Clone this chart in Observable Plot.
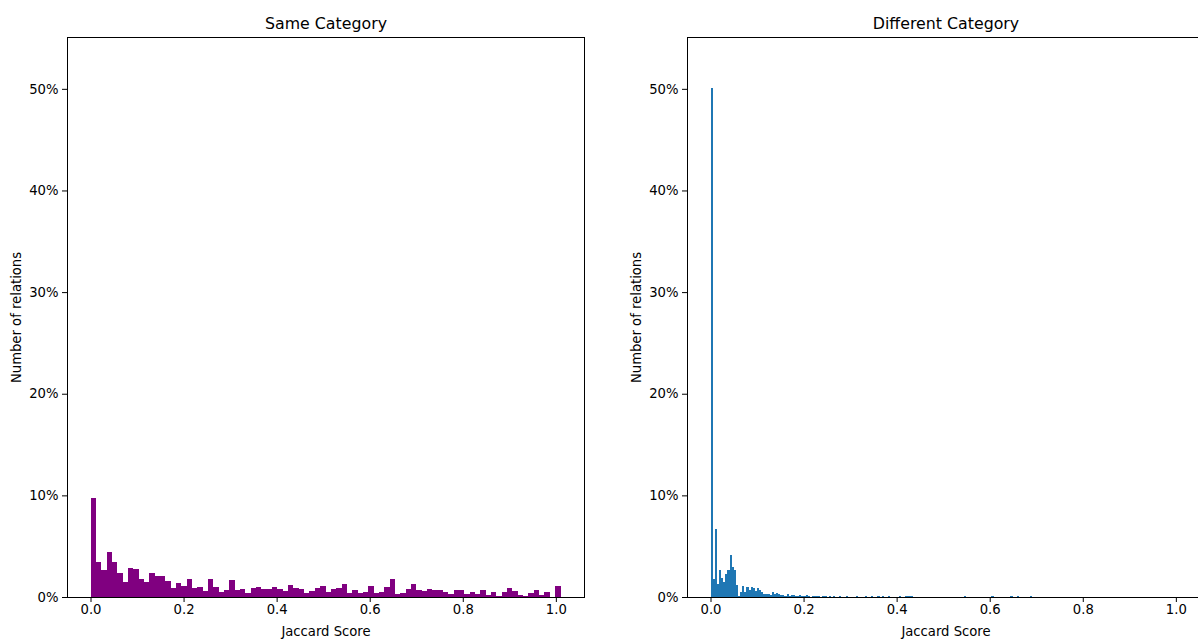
<!DOCTYPE html>
<html>
<head>
<meta charset="utf-8">
<script src="https://cdn.jsdelivr.net/npm/d3@7"></script>
<script src="https://cdn.jsdelivr.net/npm/@observablehq/plot@0.6"></script>
<style>
  html, body { margin: 0; padding: 0; background: #fff; }
  #wrap { position: relative; width: 1198px; height: 639px; overflow: hidden; }
  #left, #right { position: absolute; top: 0; }
  #left { left: 0; width: 599px; }
  #right { left: 599px; width: 620px; }
  svg { max-width: none !important; }
</style>
</head>
<body>
<div id="wrap"><div id="left"></div><div id="right"></div></div>
<script>
// ---- data (percent of relations per bin) ----
const titles = ["Same Category", "Different Category"];
const xLabel = "Jaccard Score";
const yLabel = "Number of relations";
const xTicks = [0, 0.2, 0.4, 0.6, 0.8, 1.0];
const yTicks = [0, 10, 20, 30, 40, 50];

const sameBinWidth = 1.01 / 88;
const samePct = [
  9.78,3.48,2.62,4.43,3.48,2.33,1.51,2.89,2.72,1.77,
  1.51,2.36,2.10,2.10,1.61,0.92,1.41,1.12,1.77,0.85,
  0.95,0.56,1.77,1.02,0.46,0.72,1.71,0.66,0.75,0.36,
  0.92,1.02,0.75,0.82,1.02,0.75,0.62,1.21,0.92,0.75,
  0.36,0.62,0.92,1.12,0.46,0.75,0.92,1.31,0.43,0.66,
  0.36,0.46,1.12,0.36,0.46,1.02,1.77,0.26,0.36,0.75,
  1.31,0.66,0.56,0.75,0.66,0.66,0.46,0.26,0.66,0.66,
  0.26,0.46,0.26,0.66,0.16,0.46,0.13,0.46,0.92,0.56,
  0.16,0.07,0.36,0.66,0.16,0.46,0,1.12
];

const diffBinWidth = 0.00454;
const diffPct = [
  50.1,1.80,6.66,1.31,2.69,1.90,1.51,2.30,2.62,4.17,
  2.95,2.62,1.15,0.07,0.49,1.05,0.49,0.98,0.66,0.98,
  0.92,0.56,0.92,0.66,0.49,0.33,0.26,0.33,0.16,0.49,
  0.26,0.39,0.33,0.16,0.20,0.10,0.26,0.10,0.16,0.20,
  0.10,0.10,0.16,0.05,0.10,0.16,0.10,0,0.10,0.10,
  0.05,0.10,0,0.05,0.10,0,0.05,0,0.10,0,
  0,0.05,0,0,0.05,0,0,0,0,0.05,
  0,0,0,0.07,0,0,0.05,0,0,0.07,
  0,0.05,0,0,0.07,0,0,0,0,0.07,
  0,0,0.07,0.07,0.07,0.05,0,0,0,0,
  0,0,0,0,0,0,0,0,0,0,
  0,0,0,0,0,0,0,0,0,0,
  0.05,0,0,0,0,0,0,0,0,0,
  0,0,0,0.07,0,0,0,0,0,0,
  0,0,0.05,0,0,0.05,0,0,0,0,
  0,0.05,0
];

function toBins(pcts, w) {
  return pcts.map((p, i) => ({x1: i * w, x2: (i + 1) * w, pct: p})).filter(d => d.pct > 0);
}

function panel({title, bins, fill, width, marginLeft}) {
  return Plot.plot({
    width, height: 639,
    marginLeft, marginRight: 15, marginTop: 37, marginBottom: 42,
    style: {fontFamily: "DejaVu Sans", fontSize: "13.2px", color: "#000", background: "transparent", overflow: "visible", maxWidth: "none"},
    x: {domain: [-0.0505, 1.0605]},
    y: {domain: [0, 55.1]},
    marks: [
      Plot.rectY(bins, {x1: "x1", x2: "x2", y1: 0, y2: "pct", fill, inset: 0, shapeRendering: "crispEdges"}),
      Plot.frame({stroke: "#000", strokeWidth: 1}),
      Plot.axisX({ticks: xTicks, tickFormat: d3.format(".1f"), tickSize: 5, tickPadding: 2,
        label: xLabel, labelAnchor: "center", labelOffset: 38, labelArrow: "none"}),
      Plot.axisY({ticks: yTicks, tickFormat: d => d + "%", tickSize: 5, tickPadding: 4,
        label: yLabel, labelAnchor: "center", labelOffset: 56, labelArrow: "none"}),
      Plot.text([title], {frameAnchor: "top", dy: -14, lineAnchor: "middle", fontSize: 15.8, fill: "#000"})
    ]
  });
}

document.getElementById("left").appendChild(panel({
  title: titles[0], bins: toBins(samePct, sameBinWidth), fill: "#800080", width: 599, marginLeft: 67
}));
document.getElementById("right").appendChild(panel({
  title: titles[1], bins: toBins(diffPct, diffBinWidth), fill: "#1f77b4", width: 620, marginLeft: 88
}));
</script>
</body>
</html>
